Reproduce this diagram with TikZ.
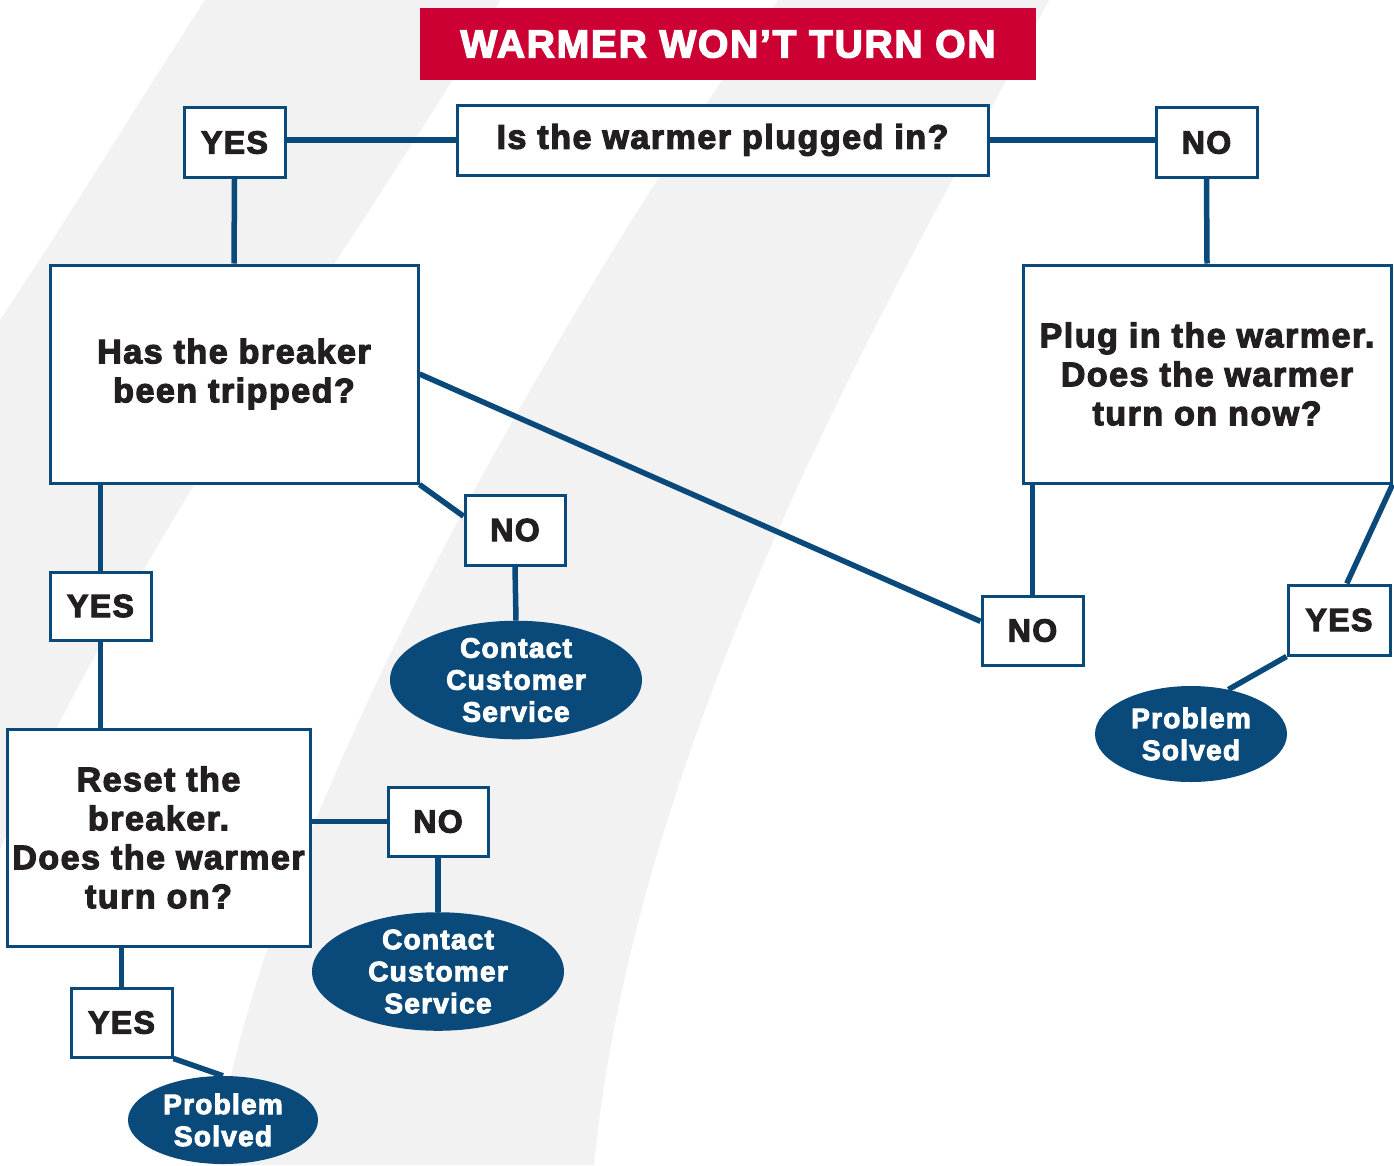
\documentclass[tikz,border=0pt]{standalone}
\usepackage{fontspec}
\setmainfont{Liberation Sans}[BoldFeatures={FakeBold=3.5}, LetterSpace=4.5]
\usetikzlibrary{shapes.geometric}

\definecolor{chartblue}{RGB}{10,74,122}
\definecolor{chartred}{RGB}{204,0,51}
\definecolor{bandgray}{RGB}{242,242,243}
\definecolor{inkblack}{RGB}{35,31,32}

\begin{document}
\begin{tikzpicture}[x=1pt, y=-1pt,
	qbox/.style={draw=chartblue, line width=3pt, fill=white, inner sep=0pt,
		align=center, text=inkblack, font=\fontsize{34}{39}\selectfont\bfseries},
	answer/.style={qbox, minimum width=101pt, minimum height=70pt,
		font=\fontsize{32}{36}\selectfont\bfseries},
	endpoint/.style={ellipse, fill=chartblue, inner sep=0pt, align=center,
		text=white, font=\fontsize{28}{32}\selectfont\bfseries},
	link/.style={draw=chartblue, line width=5.5pt}]

	% canvas
	\useasboundingbox (0,0) rectangle (1394,1165);

	% background swooshes
	\fill[bandgray] (205,0) -- (500,0) .. controls (400,180) and (120,560) .. (0,850)
		-- (0,320) .. controls (70,215) and (140,100) .. (205,0) -- cycle;
	\fill[bandgray] (778,0) -- (1049,0) .. controls (930,230) and (640,700) .. (594,1165)
		-- (215,1165) .. controls (260,800) and (620,220) .. (778,0) -- cycle;

	% title
	\node[fill=chartred, minimum width=616pt, minimum height=72pt, text=white,
		font=\fontsize{39}{44}\selectfont\bfseries] (title) at (728,44) {WARMER WON’T TURN ON};

	% first question
	\node[qbox, minimum width=531pt, minimum height=70pt] (plugged) at (722.5,140) {Is the warmer plugged in?};
	\node[answer] (yes1) at (234.5,142.5) {YES};
	\node[answer] (no1) at (1206.5,142.5) {NO};

	% second level
	\node[qbox, minimum width=368pt, minimum height=218pt] (breaker) at (234,374)
		{Has the breaker\\been tripped?};
	\node[qbox, minimum width=368pt, minimum height=218pt] (plug) at (1207,374)
		{Plug in the warmer.\\Does the warmer\\turn on now?};

	% answers below the breaker
	\node[answer, minimum height=68pt] (yes2) at (100.5,606) {YES};
	\node[answer, minimum width=100pt] (no2) at (515,530) {NO};
	\node[endpoint, minimum width=252pt, minimum height=114pt] (service1) at (516,680)
		{Contact\\Customer\\Service};

	% answers below the plug box
	\node[answer, minimum height=69pt] (no3) at (1032.5,630.5) {NO};
	\node[answer, minimum width=102pt] (yes3) at (1339,620) {YES};
	\node[endpoint, minimum width=192pt, minimum height=96pt] (solved1) at (1191,734)
		{Problem\\Solved};

	% reset step
	\node[qbox, minimum width=303pt, minimum height=217pt] (reset) at (158.5,837.5)
		{Reset the\\breaker.\\Does the warmer\\turn on?};
	\node[answer, minimum width=100pt, minimum height=69pt] (no4) at (438,821.5) {NO};
	\node[endpoint, minimum width=252pt, minimum height=111pt] (service2) at (438,971.5)
		{Contact\\Customer\\Service};
	\node[answer, minimum height=69pt] (yes4) at (121.5,1022.5) {YES};
	\node[endpoint, minimum width=190pt, minimum height=88pt] (solved2) at (223,1120)
		{Problem\\Solved};

	% top connectors
	\draw[link] (plugged.west) -- (plugged.west -| yes1.east);
	\draw[link] (plugged.east) -- (plugged.east -| no1.west);
	\draw[link] (yes1.south) -- (breaker.north);
	\draw[link] (no1.south) -- (plug.north);

	% breaker connectors
	\draw[link] (yes2.north |- breaker.south) -- (yes2.north);
	\draw[link] (yes2.south) -- (yes2.south |- reset.north);
	\draw[link] (breaker.south east) -- (no2.165);
	\draw[link] (no2.south) -- (service1.north);
	\draw[link] (breaker.east) -- (no3.170);

	% plug connectors
	\draw[link] (no3.north |- plug.south) -- (no3.north);
	\draw[link] (plug.south east) -- (yes3.78);
	\draw[link] (yes3.south west) -- (solved1.50);

	% reset connectors
	\draw[link] (no4.west -| reset.east) -- (no4.west);
	\draw[link] (no4.south) -- (service2.north);
	\draw[link] (yes4.north |- reset.south) -- (yes4.north);
	\draw[link] (yes4.south east) -- (solved2.north);

\end{tikzpicture}
\end{document}
